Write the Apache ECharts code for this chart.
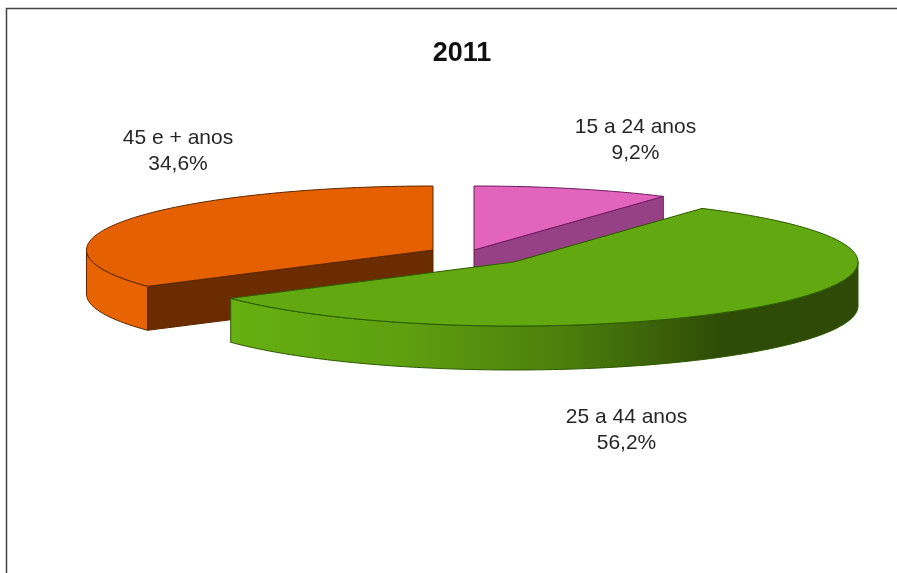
<!DOCTYPE html>
<html>
<head>
<meta charset="utf-8">
<style>html,body{margin:0;padding:0;background:#fff}#c{width:897px;height:573px}</style>
<script src="https://cdn.jsdelivr.net/npm/echarts@6/dist/echarts.min.js"></script>
</head>
<body>
<div id="c"></div>
<script>
const chartTitle = '2011';
const categories = ['15 a 24 anos', '25 a 44 anos', '45 e + anos'];
const values = [9.2, 56.2, 34.6];

// Layout and style of the tilted, exploded pie (no data here)
const paintOrder = [2, 0, 1];
const apexX = [474, 514, 433];
const apexY = [250, 262, 250];
const radiiX = [346.5, 344, 346.5];
const radiusY = 64, depth = 44;
const labelX = [635.5, 626.5, 178];
const labelY = [140, 430, 151];
const topColor = ['#E264BC', '#62A811', '#E56000'];
const edgeColor = ['#6E1A60', '#2C5A00', '#5E2600'];
const cutColor = ['#964085', '#3A5A08', '#6B2C00'];
const wallColor = [
  '#964085',
  {type: 'linear', x: 229, y: 0, x2: 857, y2: 0, global: true, colorStops: [
    {offset: 0, color: '#66B012'}, {offset: 0.28, color: '#5E9F10'},
    {offset: 0.55, color: '#4A7C0C'}, {offset: 0.78, color: '#2F4C06'}, {offset: 1, color: '#2E4A06'}]},
  '#E86400'
];
const total = values.reduce((a, b) => a + b, 0);
const pct = v => v.toFixed(1).replace('.', ',') + '%';

function rim(cx, cy, rx, a0, a1) {
  const pts = [], n = Math.max(2, Math.ceil((a1 - a0) / 0.02));
  for (let k = 0; k <= n; k++) {
    const a = a0 + (a1 - a0) * k / n;
    pts.push([cx + rx * Math.sin(a), cy - radiusY * Math.cos(a)]);
  }
  return pts;
}

function renderItem(params, api) {
  const i = paintOrder[params.dataIndex];
  let before = 0;
  for (let k = 0; k < i; k++) before += values[k];
  const a0 = before / total * 2 * Math.PI;
  const a1 = (before + api.value(0)) / total * 2 * Math.PI;
  const cx = apexX[i], cy = apexY[i], rx = radiiX[i];
  const children = [];
  const line = {stroke: edgeColor[i], lineWidth: 1};

  // outer wall: only the front half of the rim shows
  const w0 = Math.max(a0, Math.PI / 2), w1 = Math.min(a1, 3 * Math.PI / 2);
  if (w1 > w0) {
    const up = rim(cx, cy, rx, w0, w1);
    const down = up.map(p => [p[0], p[1] + depth]).reverse();
    children.push({type: 'polygon', shape: {points: up.concat(down)},
      style: Object.assign({fill: wallColor[i]}, line)});
  }
  // cut faces that turn towards the viewer
  [[a0, Math.sin(a0) < -1e-6], [a1, Math.sin(a1) > 1e-6]].forEach(([a, show]) => {
    if (!show) return;
    const tip = [cx + rx * Math.sin(a), cy - radiusY * Math.cos(a)];
    children.push({type: 'polygon', shape: {points: [[cx, cy], tip, [tip[0], tip[1] + depth], [cx, cy + depth]]},
      style: Object.assign({fill: cutColor[i]}, line)});
  });
  // top face
  children.push({type: 'polygon', shape: {points: [[cx, cy]].concat(rim(cx, cy, rx, a0, a1))},
    style: Object.assign({fill: topColor[i]}, line)});
  // label
  children.push({type: 'text', style: {
    x: labelX[i], y: labelY[i], text: categories[i] + '\n' + pct(api.value(0)),
    fill: '#262626', font: '21px "Liberation Sans", Arial, sans-serif', lineHeight: 26,
    align: 'center', verticalAlign: 'middle'}});
  return {type: 'group', children};
}

const chart = echarts.init(document.getElementById('c'), null, {renderer: 'canvas'});
chart.setOption({
  animation: false,
  backgroundColor: '#fff',
  title: {text: chartTitle, left: 462, top: 40, textAlign: 'center', padding: 0,
    textStyle: {fontFamily: '"Liberation Sans", Arial, sans-serif', fontSize: 27, fontWeight: 'bold', color: '#111'}},
  graphic: [{type: 'polyline', silent: true,
    shape: {points: [[6.5, 573], [6.5, 8.5], [897, 8.5]]},
    style: {stroke: '#444', lineWidth: 1.5, fill: null}}],
  series: [{
    type: 'custom',
    coordinateSystem: 'none',
    renderItem,
    data: paintOrder.map(i => ({name: categories[i], value: [values[i]]}))
  }]
});
</script>
</body>
</html>
